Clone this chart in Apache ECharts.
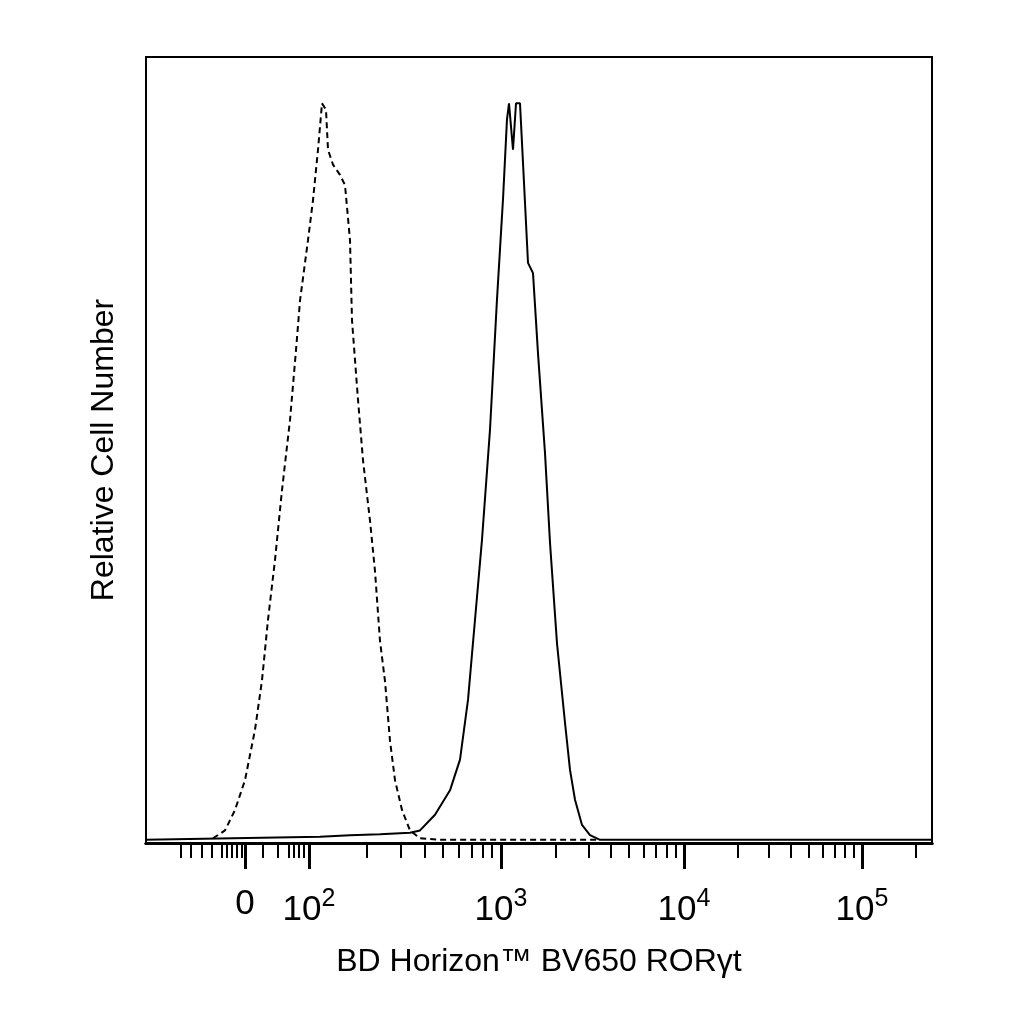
<!DOCTYPE html><html><head><meta charset="utf-8"><script src="https://cdn.jsdelivr.net/npm/echarts@6/dist/echarts.min.js"></script></head><body style="margin:0"><div id="c" style="width:1024px;height:1024px"></div><script>
const isoX=[67,79,89,99,109,116,122,129,136,144,150,154,162,167,172,176,180,182,187,194,199,204,206,212,217,224,229,234,239,244,249,256,264,274,294,454];
const isoY=[0.6,1.6,4.2,8,14.4,20.7,28.4,36,44.9,53.8,62.7,69,76.7,81.8,88.2,94.1,93.3,88.2,86.3,85,83.7,76.7,66.5,56.4,48.7,41,34.6,25.7,20.6,13,8,4.2,1.6,0.6,0.4,0.4];
const rorX=[0,174,204,234,264,274,289,304,314,322,329,336,344,351,357,361,363,367,370,374,378,382,387,392,399,404,411,419,424,429,436,444,454,786];
const rorY=[0.4,0.8,1,1.1,1.3,1.6,3.6,6.7,10.6,18.2,28.4,38.6,52.6,69.2,81.9,92.1,94.1,88.2,94.1,94.1,84,73.8,72.5,62.3,49.6,38.2,25.4,15.3,9.3,5.5,2.3,1,0.4,0.4];
const majorTicks=[99,163,355,538,716];
const majorLabels=['0','10{s|2}','10{s|3}','10{s|4}','10{s|5}'];
const linMinor=[35,45,56,66,76,81,86,91,96,117,132,143,148,153,158];
const decades=[[163,192],[355,183],[538,178],[716,178]];
const minor=linMinor.slice();
decades.forEach(([o,w])=>{for(let k=2;k<=9;k++){const v=o+w*Math.log10(k);if(v<786)minor.push(+v.toFixed(1));}});
const pair=(xs,ys)=>xs.map((x,i)=>[x,ys[i]]);
const ch=echarts.init(document.getElementById('c'));
const base={type:'value',min:0,max:786,position:'bottom',splitLine:{show:false},axisLine:{show:true,onZero:false,lineStyle:{color:'#000',width:3}}};
ch.setOption({animation:false,
grid:{left:146,right:92,top:57,bottom:181,show:true,borderColor:'#000',borderWidth:2},
xAxis:[Object.assign({},base,{name:'BD Horizon™ BV650 RORγt',nameLocation:'middle',nameGap:103,nameTextStyle:{fontFamily:'Liberation Sans',fontSize:32,color:'#000'},
 axisTick:{show:true,length:26,customValues:majorTicks,lineStyle:{color:'#000',width:3}},
 axisLabel:{customValues:majorTicks,margin:44,fontFamily:'Liberation Sans',fontSize:35,color:'#000',
  formatter:v=>majorLabels[majorTicks.indexOf(v)]||'',rich:{s:{fontSize:25,verticalAlign:'top',padding:[0,0,22,0],fontFamily:'Liberation Sans'}}}}),
 Object.assign({},base,{axisTick:{show:true,length:15,customValues:minor,lineStyle:{color:'#000',width:2}},axisLabel:{show:false}})],
yAxis:{type:'value',min:0,max:100,axisLine:{show:false},axisTick:{show:false},axisLabel:{show:false},splitLine:{show:false},
 name:'Relative Cell Number',nameLocation:'middle',nameGap:26,nameTextStyle:{fontFamily:'Liberation Sans',fontSize:32,color:'#000'}},
series:[
 {type:'line',data:pair(isoX,isoY),showSymbol:false,lineStyle:{color:'#000',width:2,type:[6,4]}},
 {type:'line',data:pair(rorX,rorY),showSymbol:false,lineStyle:{color:'#000',width:2}}]});
</script></body></html>
